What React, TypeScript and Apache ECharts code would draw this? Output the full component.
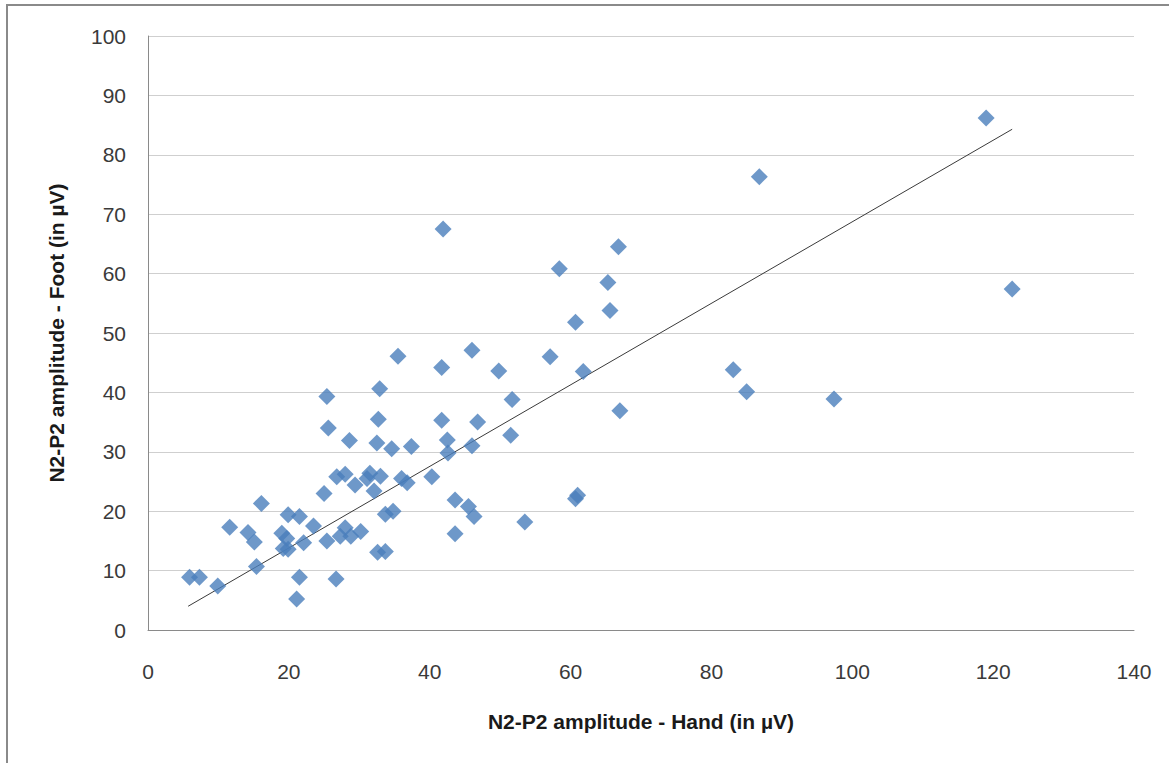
import React, { useEffect, useRef } from "react";
import * as echarts from "echarts";

const handAmp: number[] = [
  119.0, 86.8, 122.7, 41.9, 66.8, 58.4, 65.3, 65.6, 60.7, 57.1,
  35.5, 46.0, 49.8, 61.8, 41.7, 83.1, 85.0, 97.4, 67.0, 25.4,
  32.9, 51.7, 25.6, 32.7, 41.7, 46.8, 51.5, 28.6, 32.5, 42.5,
  34.6, 37.4, 42.6, 46.0, 26.8, 28.0, 29.4, 31.5, 33.0, 32.1,
  36.0, 36.8, 40.3, 25.0, 16.1, 19.9, 21.5, 23.5, 11.6, 14.2,
  15.1, 19.0, 19.7, 19.2, 19.9, 22.1, 25.4, 27.3, 28.0, 28.8,
  30.2, 32.6, 33.7, 33.7, 34.8, 5.9, 7.3, 9.9, 15.4, 21.5,
  26.7, 21.1, 43.6, 45.5, 46.3, 60.7, 61.0, 53.5, 43.6, 31.1,
];
const footAmp: number[] = [
  86.2, 76.3, 57.4, 67.5, 64.5, 60.8, 58.5, 53.8, 51.8, 46.0,
  46.1, 47.1, 43.6, 43.5, 44.2, 43.8, 40.1, 38.9, 36.9, 39.3,
  40.6, 38.8, 34.0, 35.5, 35.3, 35.0, 32.8, 31.9, 31.5, 32.0,
  30.5, 30.9, 29.8, 31.0, 25.8, 26.2, 24.4, 26.4, 25.9, 23.4,
  25.5, 24.8, 25.8, 23.0, 21.3, 19.4, 19.1, 17.5, 17.3, 16.4,
  14.8, 16.3, 15.4, 13.7, 13.6, 14.7, 15.0, 15.8, 17.2, 15.8,
  16.6, 13.1, 13.2, 19.5, 20.0, 8.9, 8.9, 7.4, 10.7, 8.9,
  8.6, 5.2, 21.9, 20.8, 19.1, 22.1, 22.7, 18.2, 16.2, 25.5,
];
const trendX: number[] = [5.7, 122.7];
const trendY: number[] = [4.0, 84.3];

const xTicks = { min: 0, max: 140, interval: 20 };
const yTicks = { min: 0, max: 100, interval: 10 };

const xName = "N2-P2 amplitude - Hand (in µV)";
const yName = "N2-P2 amplitude - Foot (in µV)";

export default function App() {
  const ref = useRef<HTMLDivElement>(null);
  useEffect(() => {
    if (!ref.current) return;
    const chart = echarts.init(ref.current, null, { renderer: "svg" });
    const points = handAmp.map((x, i) => [x, footAmp[i]]);
    const trend = trendX.map((x, i) => [x, trendY[i]]);
    const font = "'Liberation Sans', Arial, sans-serif";
    chart.setOption({
      animation: false,
      backgroundColor: "#ffffff",
      textStyle: { fontFamily: font },
      graphic: [
        {
          type: "rect",
          shape: { x: 7, y: 5, width: 1300, height: 900 },
          style: { fill: "none", stroke: "#8a8a8a", lineWidth: 2 },
          silent: true,
          z: -1,
        },
      ],
      grid: { left: 148, top: 36, right: 35, bottom: 133, containLabel: false },
      xAxis: {
        type: "value",
        min: xTicks.min,
        max: xTicks.max,
        interval: xTicks.interval,
        name: xName,
        nameLocation: "middle",
        nameGap: 81,
        nameTextStyle: { fontFamily: font, fontSize: 21, fontWeight: "bold", color: "#1a1a1a" },
        axisLine: { show: true, lineStyle: { color: "#8a8a8a", width: 1 } },
        axisTick: { show: false },
        axisLabel: { margin: 31, fontSize: 21, color: "#3a3a3a", fontFamily: font },
        splitLine: { show: false },
      },
      yAxis: {
        type: "value",
        min: yTicks.min,
        max: yTicks.max,
        interval: yTicks.interval,
        name: yName,
        nameLocation: "middle",
        nameGap: 81,
        nameRotate: 90,
        nameTextStyle: { fontFamily: font, fontSize: 21, fontWeight: "bold", color: "#1a1a1a" },
        axisLine: { show: true, lineStyle: { color: "#8a8a8a", width: 1 } },
        axisTick: { show: false },
        axisLabel: { margin: 22, fontSize: 21, color: "#3a3a3a", fontFamily: font },
        splitLine: { show: true, lineStyle: { color: "#cfcfcf", width: 1 } },
      },
      series: [
        {
          type: "line",
          data: trend,
          symbol: "none",
          lineStyle: { color: "#3a3a3a", width: 1 },
          silent: true,
          z: 1,
        },
        {
          type: "scatter",
          data: points,
          symbol: "diamond",
          symbolSize: 17,
          itemStyle: { color: "#4a7ebb" },
          z: 2,
        },
      ],
    });
    return () => chart.dispose();
  }, []);
  return (
    <div
      ref={ref}
      style={{ position: "fixed", left: 0, top: 0, width: 1169, height: 763 }}
    />
  );
}
